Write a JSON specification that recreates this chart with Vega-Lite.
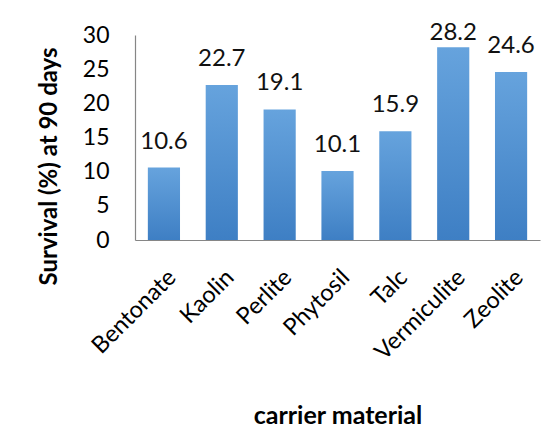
{
  "$schema": "https://vega.github.io/schema/vega-lite/v6.json",
  "width": 405,
  "height": 205,
  "autosize": "none",
  "padding": {"left": 135, "top": 35, "right": 12, "bottom": 196},
  "background": "white",
  "config": {
    "font": "Lato",
    "view": {"stroke": null},
    "axis": {"labelFont": "Lato", "titleFont": "Lato", "labelColor": "#000000", "titleColor": "#000000", "domainColor": "#868686", "domainWidth": 1.2, "grid": false, "ticks": false, "tickSize": 0}
  },
  "data": {
    "values": [
      {"carrier": "Bentonate", "survival": 10.6},
      {"carrier": "Kaolin", "survival": 22.7},
      {"carrier": "Perlite", "survival": 19.1},
      {"carrier": "Phytosil", "survival": 10.1},
      {"carrier": "Talc", "survival": 15.9},
      {"carrier": "Vermiculite", "survival": 28.2},
      {"carrier": "Zeolite", "survival": 24.6}
    ]
  },
  "encoding": {
    "x": {
      "field": "carrier",
      "type": "nominal",
      "sort": null,
      "scale": {"paddingInner": 0.444, "paddingOuter": 0.222},
      "axis": {
        "title": "carrier material",
        "titleFontSize": 25,
        "titleFontWeight": "bold",
        "titleBaseline": "alphabetic",
        "titleY": 183,
        "labelAngle": -45,
        "labelFontSize": 23.5,
        "labelPadding": 25,
        "labelOverlap": false
      }
    }
  },
  "layer": [
    {
      "mark": {
        "type": "bar",
        "color": {
          "gradient": "linear",
          "x1": 0, "y1": 0, "x2": 0, "y2": 1,
          "stops": [
            {"offset": 0, "color": "#66a3dd"},
            {"offset": 1, "color": "#3e7fc4"}
          ]
        }
      },
      "encoding": {
        "y": {
          "field": "survival",
          "type": "quantitative",
          "scale": {"domain": [0, 30], "nice": false},
          "axis": {
            "title": "Survival (%) at 90 days",
            "titleFontSize": 24,
            "titleFontWeight": "bold",
            "titleBaseline": "alphabetic",
            "titleX": -79,
            "titleY": 131,
            "values": [0, 5, 10, 15, 20, 25, 30],
            "labelOverlap": false,
            "labelFontSize": 23,
            "labelPadding": 26
          }
        }
      }
    },
    {
      "transform": [
        {"calculate": "min(datum.survival + 2.78, 29.28)", "as": "labelPos"}
      ],
      "mark": {"type": "text", "baseline": "alphabetic", "fontSize": 24, "color": "#111111"},
      "encoding": {
        "y": {
          "field": "labelPos",
          "type": "quantitative",
          "axis": {
            "title": "Survival (%) at 90 days",
            "titleFontSize": 24,
            "titleFontWeight": "bold",
            "titleBaseline": "alphabetic",
            "titleX": -79,
            "titleY": 131,
            "values": [0, 5, 10, 15, 20, 25, 30],
            "labelOverlap": false,
            "labelFontSize": 23,
            "labelPadding": 26
          }
        },
        "text": {"field": "survival", "type": "quantitative", "format": ".1f"}
      }
    }
  ]
}
